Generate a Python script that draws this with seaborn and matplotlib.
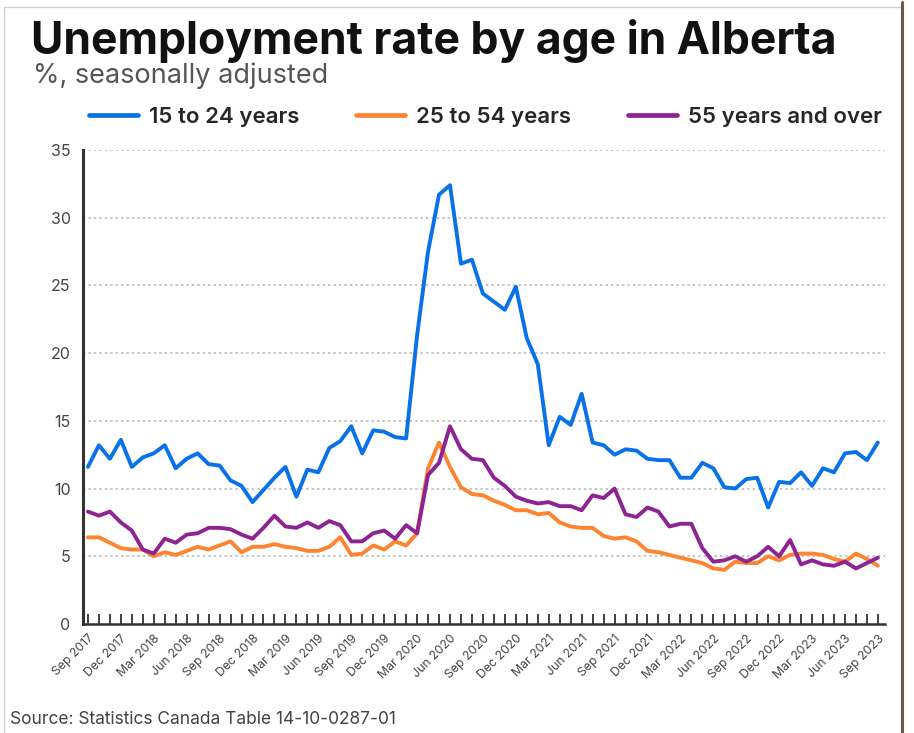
import pandas as pd
import matplotlib.pyplot as plt
import seaborn as sns
from matplotlib.patches import Rectangle
from matplotlib.lines import Line2D

# monthly, Sep 2017 .. Sep 2023 (73 months)
months = pd.date_range("2017-09-01", "2023-09-01", freq="MS")

youth = [11.6, 13.2, 12.2, 13.6, 11.6, 12.3, 12.6, 13.2, 11.5, 12.2,
         12.6, 11.8, 11.7, 10.6, 10.2, 9.0, 9.9, 10.8, 11.6, 9.4,
         11.4, 11.2, 13.0, 13.5, 14.6, 12.6, 14.3, 14.2, 13.8, 13.7,
         21.3, 27.5, 31.7, 32.4, 26.6, 26.9, 24.4, 23.8, 23.2, 24.9,
         21.1, 19.2, 13.2, 15.3, 14.7, 17.0, 13.4, 13.2, 12.5, 12.9,
         12.8, 12.2, 12.1, 12.1, 10.8, 10.8, 11.9, 11.5, 10.1, 10.0,
         10.7, 10.8, 8.6, 10.5, 10.4, 11.2, 10.2, 11.5, 11.2, 12.6,
         12.7, 12.1, 13.4]

core = [6.4, 6.4, 6.0, 5.6, 5.5, 5.5, 5.0, 5.3, 5.1, 5.4,
        5.7, 5.5, 5.8, 6.1, 5.3, 5.7, 5.7, 5.9, 5.7, 5.6,
        5.4, 5.4, 5.7, 6.4, 5.1, 5.2, 5.8, 5.5, 6.1, 5.8,
        6.7, 11.5, 13.4, 11.6, 10.1, 9.6, 9.5, 9.1, 8.8, 8.4,
        8.4, 8.1, 8.2, 7.5, 7.2, 7.1, 7.1, 6.5, 6.3, 6.4,
        6.1, 5.4, 5.3, 5.1, 4.9, 4.7, 4.5, 4.1, 4.0, 4.6,
        4.5, 4.5, 5.0, 4.7, 5.1, 5.2, 5.2, 5.1, 4.8, 4.6,
        5.2, 4.8, 4.3]

older = [8.3, 8.0, 8.3, 7.5, 6.9, 5.5, 5.2, 6.3, 6.0, 6.6,
         6.7, 7.1, 7.1, 7.0, 6.6, 6.3, 7.1, 8.0, 7.2, 7.1,
         7.5, 7.1, 7.6, 7.3, 6.1, 6.1, 6.7, 6.9, 6.3, 7.3,
         6.7, 11.0, 11.9, 14.6, 12.9, 12.2, 12.1, 10.8, 10.2, 9.4,
         9.1, 8.9, 9.0, 8.7, 8.7, 8.4, 9.5, 9.3, 10.0, 8.1,
         7.9, 8.6, 8.3, 7.2, 7.4, 7.4, 5.6, 4.6, 4.7, 5.0,
         4.6, 5.0, 5.7, 5.0, 6.2, 4.4, 4.7, 4.4, 4.3, 4.6,
         4.1, 4.5, 4.9]

groups = ["15 to 24 years", "25 to 54 years", "55 years and over"]
colors = ["#0a72e8", "#fd8431", "#8e2492"]

tick_labels = ["Sep 2017", "Dec 2017", "Mar 2018", "Jun 2018", "Sep 2018",
               "Dec 2018", "Mar 2019", "Jun 2019", "Sep 2019", "Dec 2019",
               "Mar 2020", "Jun 2020", "Sep 2020", "Dec 2020", "Mar 2021",
               "Jun 2021", "Sep 2021", "Dec 2021", "Mar 2022", "Jun 2022",
               "Sep 2022", "Dec 2022", "Mar 2023", "Jun 2023", "Sep 2023"]

n = len(months)
df = pd.DataFrame({
    "idx": list(range(n)) * 3,
    "rate": youth + core + older,
    "group": [groups[0]] * n + [groups[1]] * n + [groups[2]] * n,
})

sns.set_theme(style="white")
plt.rcParams["font.family"] = ["Inter", "DejaVu Sans"]

fig = plt.figure(figsize=(9.14, 7.33), dpi=100)
ax = fig.add_axes([83 / 914, 1 - 624 / 733, 802 / 914, 474 / 733])

sns.lineplot(data=df, x="idx", y="rate", hue="group", hue_order=groups,
             palette=colors, linewidth=2.8, ax=ax, legend=False)

ax.set_ylim(0, 35)
ax.set_xlim(-0.45, 72.65)
ax.set_yticks(range(0, 36, 5))
ax.set_xticks(range(0, n, 3))
ax.set_xticklabels(tick_labels, rotation=45, ha="right", rotation_mode="anchor",
                   fontsize=8.8, color="#444444")
ax.set_xticks(range(n), minor=True)
ax.tick_params(axis="x", which="both", direction="in", length=7, width=1.3,
               color="#333333", pad=6, bottom=True)
ax.tick_params(axis="y", length=0, pad=9, labelsize=11.5, labelcolor="#444444")
ax.set_xlabel("")
ax.set_ylabel("")

for v in range(5, 36, 5):
    ax.axhline(v, color="#c4c4c4", linestyle=(0, (1.2, 1.6)), linewidth=1.4, zorder=0)

for s in ["top", "right"]:
    ax.spines[s].set_visible(False)
ax.spines["left"].set_color("#333333")
ax.spines["left"].set_linewidth(2.2)
ax.spines["bottom"].set_color("#333333")
ax.spines["bottom"].set_linewidth(1.8)

handles = [Line2D([], [], color=c, linewidth=3.4) for c in colors]
fig.legend(handles, groups, loc="center left", bbox_to_anchor=(69 / 914, 1 - 117 / 733),
           ncol=3, frameon=False, handlelength=2.2, handletextpad=0.5,
           columnspacing=2.55, prop={"family": "Inter", "weight": "semibold", "size": 16})

fig.text(31 / 914, 1 - 54 / 733, "Unemployment rate by age in Alberta",
         fontsize=32, fontweight="bold", color="#111111", va="baseline")
fig.text(33 / 914, 1 - 83 / 733, "%, seasonally adjusted",
         fontsize=19.5, color="#555555", va="baseline")
fig.text(10 / 914, 1 - 724 / 733, "Source: Statistics Canada Table 14-10-0287-01",
         fontsize=12.5, color="#444444", va="baseline")

# card border
fig.patches.append(Rectangle((4 / 914, -0.01), 897 / 914, 1.0, transform=fig.transFigure,
                             fill=False, edgecolor="#cfcfcf", linewidth=1.0))
fig.lines.append(Line2D([902 / 914, 902 / 914], [0, 0.997], transform=fig.transFigure,
                        color="#6b5a52", linewidth=2.2))

fig.savefig("out.png", dpi=100)
